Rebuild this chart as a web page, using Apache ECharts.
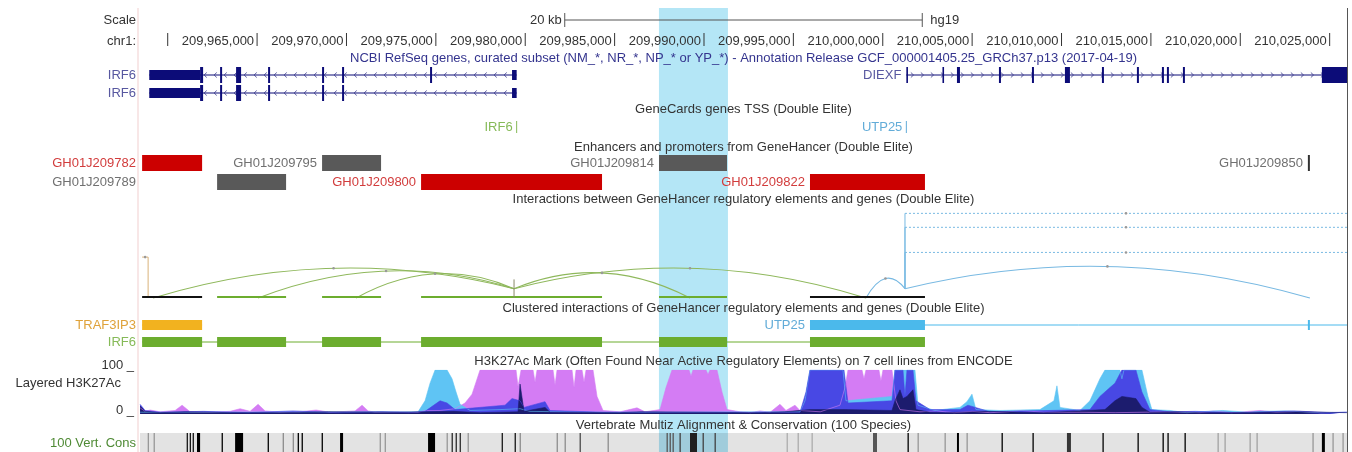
<!DOCTYPE html>
<html><head><meta charset="utf-8">
<script src="https://cdn.jsdelivr.net/npm/echarts@6/dist/echarts.min.js"></script>
<style>html,body{margin:0;padding:0;background:#fff}#c{width:1352px;height:452px}</style>
</head><body><div id="c"></div><script>
// ---------------- data (hg19, chr1) ----------------
const XMIN = 209958450, XMAX = 210025970;
const RULER_TICKS = [209960000,209965000,209970000,209975000,209980000,209985000,209990000,209995000,210000000,210005000,210010000,210015000,210020000,210025000];
const RULER_LABELS = ['','209,965,000','209,970,000','209,975,000','209,980,000','209,985,000','209,990,000','209,995,000','210,000,000','210,005,000','210,010,000','210,015,000','210,020,000','210,025,000'];
const SCALE_BAR_BP = 20000;
const HIGHLIGHT = [209987480, 209991340];

const IRF6_A_EXONS = [[209958968,209961812,'utr'],[209961812,209961980,'cds'],[209962931,209963043,'cds'],[209963825,209964105,'cds'],[209965615,209965727,'cds'],[209968635,209968747,'cds'],[209969754,209969866,'cds'],[209974676,209974788,'cds'],[209979262,209979520,'utr']];
const IRF6_B_EXONS = [[209958968,209961812,'utr'],[209961812,209961980,'cds'],[209962931,209963043,'cds'],[209963825,209964105,'cds'],[209965615,209965727,'cds'],[209968635,209968747,'cds'],[209969754,209969866,'cds'],[209979262,209979520,'utr']];
const DIEXF_EXONS = [[210001320,210001410,'cds'],[210003340,210003400,'cds'],[210004151,210004319,'cds'],[210006500,210006612,'cds'],[210008346,210008458,'cds'],[210010191,210010471,'cds'],[210012261,210012373,'cds'],[210014218,210014330,'cds'],[210015617,210015729,'cds'],[210015896,210016008,'cds'],[210016791,210016903,'cds'],[210024565,210030000,'cds']];
const GENE_NAMES = ['IRF6','IRF6','DIEXF'];
const GENE_STRAND = ['-','-','+'];
const GENE_SPAN = [[209958968,209979520],[209958968,209979520],[210001320,210030000]];

const TSS_NAMES = ['IRF6','UTP25'];
const TSS_POS = [209979520, 210001320];

const ENH_NAMES = ['GH01J209782','GH01J209795','GH01J209814','GH01J209850','GH01J209789','GH01J209800','GH01J209822'];
const ENH_START = [209958568,209968635,209987484,210023782,209962763,209974173,209995929];
const ENH_END   = [209961924,209971935,209991287,210023894,209966622,209984296,210002361];
const ENH_ROW   = [0,0,0,0,1,1,1];
const ENH_KIND  = ['p','e','e','x','e','p','p'];

// interactions: [one end, other end, arc height score, gene]
const INT_ARCS = [
  [209959183,209979374,32,'IRF6'],
  [209965056,209979374,29,'IRF6'],
  [209970537,209979374,26,'IRF6'],
  [209979374,209999061,32,'IRF6'],
  [209979374,209989218,27,'IRF6'],
  [209999061,210001243,21,'UTP25'],
  [210001243,210023894,34,'UTP25']
];
const INT_TSS = {IRF6:209979374, UTP25:210001243};
const INT_OFFSCREEN = [[209958904,'left',44,'TRAF3IP3'],[210001243,'right',91,'UTP25'],[210001243,'right',76,'UTP25'],[210001243,'right',49,'UTP25']];
const INT_FEET_ENH = [0,4,1,5,2,6];
const INT_FEET_MULTI = [true,false,false,false,false,true];

const CLU_GENES = ['TRAF3IP3','UTP25','IRF6'];
const CLU_ROW = [0,0,1];
const CLU_MEMBERS = [[0],[6,3],[0,4,1,5,2,6]];
const CLU_SPAN = [[209958568,209961924],[209995929,210030000],[209958568,210002361]];

// H3K27Ac layered signal, [position, value 0-100]
const H3_NHEK = [[209958456,14],[209958736,6],[209959015,9],[209959575,5],[209960414,8],[209960805,20],[209961253,5],[209962371,4],[209963490,6],[209964049,12],[209964608,6],[209965056,22],[209965447,7],[209966286,4],[209967405,5],[209968300,9],[209969083,4],[209970481,7],[209970873,20],[209971208,7],[209971600,4],[209972998,5],[209974005,4],[209974396,8],[209975235,8],[209976074,12],[209976633,25],[209977025,45],[209977472,100],[209979486,100],[209979598,62],[209979766,100],[209980437,100],[209980549,72],[209980660,100],[209981555,100],[209981667,66],[209981779,100],[209982618,100],[209982730,60],[209982842,100],[209983177,100],[209983289,72],[209983401,100],[209983792,100],[209984016,40],[209984352,8],[209985303,5],[209986253,14],[209986701,5],[209987540,10],[209987875,60],[209988211,100],[209989162,100],[209989274,86],[209989385,100],[209990113,100],[209990224,90],[209990336,100],[209990728,100],[209991007,50],[209991287,10],[209992014,5],[209992600,3],[209993133,7],[209993700,4],[209994251,22],[209994587,8],[209995090,20],[209995370,8],[209996500,5],[209997607,20],[209997887,60],[209998055,100],[209998838,100],[209998950,80],[209999061,100],[209999788,100],[209999900,75],[210000012,100],[210000516,100],[210000739,30],[210000963,10],[210002082,5],[210003000,7],[210004000,3],[210005000,6],[210005997,3],[210007000,5],[210007675,8],[210009000,4],[210011030,4],[210013000,3],[210016064,5],[210017742,3],[210018500,7],[210019500,3],[210021098,8],[210022000,4],[210023335,6],[210024500,3],[210025964,4]];
const H3_HUVEC = [[209958456,4],[209974005,5],[209974396,30],[209974676,70],[209974956,100],[209975627,100],[209975906,80],[209976130,50],[209976354,22],[209976913,8],[209978591,10],[209979710,12],[209980269,6],[209984352,4],[209995370,5],[209995650,30],[209995929,100],[209997775,100],[209997943,30],[210000516,40],[210000683,100],[210001802,100],[210001970,20],[210002921,8],[210004319,15],[210004710,28],[210004990,45],[210005214,10],[210006556,8],[210008793,10],[210009576,30],[210009744,64],[210009912,15],[210011030,8],[210011590,30],[210012149,80],[210012429,100],[210013268,100],[210013379,80],[210013491,100],[210014498,100],[210014834,40],[210015057,10],[210016064,8],[210017000,3],[210017742,5],[210019000,8],[210020500,4],[210021098,6],[210022500,7],[210024500,3],[210025964,4]];
const H3_K562 = [[209958456,22],[209958736,8],[209959575,4],[209962000,6],[209964500,3],[209967000,7],[209969500,3],[209972000,5],[209973500,3],[209974396,6],[209975235,30],[209975627,25],[209976074,10],[209978871,20],[209979262,35],[209979710,30],[209979933,15],[209981108,28],[209981387,8],[209984352,4],[209995370,4],[209995706,50],[209995929,100],[209997831,100],[209998055,25],[210000516,30],[210000683,100],[210001131,100],[210001243,40],[210001355,100],[210001690,100],[210001858,30],[210002641,10],[210004319,10],[210004766,20],[210005997,5],[210011590,10],[210012149,40],[210012708,60],[210012988,70],[210013379,100],[210014162,100],[210014498,50],[210014945,10],[210016064,5],[210017500,6],[210020000,3],[210023000,7],[210025000,3],[210025964,4]];
const H3_DARK = [[209958456,18],[209958736,6],[209959575,3],[209961000,5],[209963500,3],[209966286,3],[209969000,5],[209972998,4],[209976000,6],[209977500,3],[209979598,5],[209979710,68],[209979933,6],[209981108,15],[209981387,4],[209985303,3],[209986500,5],[209992500,3],[209993133,3],[209994500,5],[209995929,10],[209997831,10],[210000516,8],[210000683,30],[210000963,55],[210001131,35],[210001355,40],[210001690,55],[210001858,10],[210002641,4],[210003500,3],[210006000,6],[210007675,4],[210009000,3],[210012429,10],[210012988,30],[210013379,40],[210014162,35],[210014498,15],[210014945,4],[210016500,5],[210017742,3],[210019500,3],[210021098,4],[210023500,5],[210025964,3]];

// conservation elements [start, end, level 0-1]
const CONS = [[209958880,209958930,0.3],[209959210,209959260,0.3],[209961060,209961110,0.9],[209961230,209961280,0.9],[209961395,209961445,0.9],[209961640,209961812,1],[209963015,209963070,1],[209963770,209964217,1],[209965590,209965640,1],[209966430,209966480,0.35],[209966990,209967040,0.35],[209967270,209967320,1],[209967490,209967540,1],[209968610,209968660,1],[209969642,209969810,1],[209971855,209971905,0.3],[209972135,209972185,0.3],[209974564,209974956,1],[209975600,209975650,0.3],[209975880,209975930,0.8],[209976105,209976155,0.8],[209976330,209976380,0.8],[209976775,209976825,0.3],[209978680,209978730,0.9],[209979405,209979455,0.9],[209979685,209979735,0.35],[209981755,209981805,0.35],[209982200,209982250,0.35],[209983040,209983090,0.65],[209984605,209984655,0.35],[209987905,209987955,0.6],[209988075,209988125,0.6],[209988240,209988290,0.6],[209988630,209988680,0.7],[209989218,209989609,0.85],[209989920,209989970,0.7],[209990590,209990640,0.7],[209994620,209994670,0.2],[209995235,209995285,0.2],[209996015,209996065,0.2],[209999453,209999677,0.6],[210001385,210001435,1],[210001945,210001995,0.3],[210003455,210003505,0.3],[210004151,210004263,1],[210004685,210004735,0.3],[210006645,210006695,1],[210008375,210008425,1],[210010303,210010527,0.75],[210012290,210012340,1],[210014250,210014300,1],[210015650,210015700,1],[210015925,210015975,1],[210016880,210016930,1],[210018725,210018775,0.25],[210019115,210019165,0.25],[210020515,210020565,0.25],[210020905,210020955,0.25],[210024035,210024085,0.3],[210024565,210024733,1],[210025155,210025205,0.3],[210025715,210025765,0.3]];

// ---------------- layout & style ----------------
const L = {left:140, right:5, marginR:136,
  scaleY:20, rulerY:41, tickTop:33, tickBot:46,
  refTitle:58, geneRows:[75,93], utrH:10, cdsH:16, chevStep:10,
  tssTitle:109, tssY:127, tssH:12,
  enhTitle:147, enhRows:[163,182], enhH:16,
  intTitle:199, intTop:205, intBase:298, tssRaise:10,
  cluTitle:308, cluRows:[325,342], cluH:10,
  h3Title:361, h3Top:370, h3Base:414,
  consTitle:425, consTop:433, consBot:452, hlTop:8};
const FONT = '13px "Liberation Sans", Arial, sans-serif';
const NAVY = '#0c0c78';
const C = {title:'#333', refTitle:'#34348e', geneLabel:'#5858a0', chev:'#3a3a8c', red:'#cc0000', redLbl:'#d23c3c', gray:'#595959', grayLbl:'#707070',
  green:'#6cad2f', greenArc:'#8fb85c', greenLbl:'#86ba58', blue:'#4bb9eb', blueArc:'#78b9e2', blueLbl:'#62acd8',
  orange:'#f2b21f', orangeLbl:'#dfa23a', orangeArc:'#d9b27a',
  nhek:'#d47cf4', huvec:'#5fc4f4', k562:'#4848e4', dark:'#1c1c6e', hl:'#b4e6f6'};
const GENE_COLOR = {TRAF3IP3:C.orange, UTP25:C.blue, IRF6:C.green};
const ARC_COLOR = {TRAF3IP3:C.orangeArc, UTP25:C.blueArc, IRF6:C.greenArc};
const LBL_COLOR = {TRAF3IP3:C.orangeLbl, UTP25:C.blueLbl, IRF6:C.greenLbl};

const mctx = document.createElement('canvas').getContext('2d');
function textW(t){ mctx.font = FONT; return mctx.measureText(t).width; }
function labelX(startPx, t){ const x = startPx - 5; return (x - textW(t) < L.left) ? L.marginR : x; }
const clampX = v => Math.max(XMIN, Math.min(XMAX, v));
function txt(x, y, t, fill, align){ return {type:'text', x:x, y:y, style:{text:t, fill:fill, font:FONT, textAlign:align||'right', textVerticalAlign:'middle', align:align||'right', verticalAlign:'middle'}}; }
function rect(x, y, w, h, fill){ return {type:'rect', shape:{x:x, y:y, width:w, height:h}, style:{fill:fill}}; }
function line(x1,y1,x2,y2,stroke,w,dash){ return {type:'line', shape:{x1:x1,y1:y1,x2:x2,y2:y2}, style:{stroke:stroke, lineWidth:w||1, lineDash:dash||null}}; }

const chart = echarts.init(document.getElementById('c'));
const axX = i => ({type:'value', gridIndex:i, min:XMIN, max:XMAX, show:false});
const base = {type:'custom', silent:true, xAxisIndex:0, yAxisIndex:0, z:3};

const series = [];
// highlight band
series.push(Object.assign({}, base, {z:0, data:[[HIGHLIGHT[0], HIGHLIGHT[1]]], renderItem:(p, api)=>{
  const a = api.coord([api.value(0), L.hlTop]), b = api.coord([api.value(1), L.consBot]);
  return rect(a[0], a[1], b[0]-a[0], b[1]-a[1], C.hl);
}}));
// ruler
series.push(Object.assign({}, base, {data:RULER_TICKS.map((t,i)=>[t,i]), renderItem:(p, api)=>{
  const x = api.coord([api.value(0), 0])[0], i = api.value(1);
  return {type:'group', children:[line(x, L.tickTop, x, L.tickBot, '#333', 1), txt(x-3, L.rulerY, RULER_LABELS[i], C.title)]};
}}));
// scale bar
const mid = (XMIN + XMAX) / 2;
series.push(Object.assign({}, base, {data:[[mid - SCALE_BAR_BP/2, mid + SCALE_BAR_BP/2]], renderItem:(p, api)=>{
  const a = api.coord([api.value(0), L.scaleY])[0], b = api.coord([api.value(1), L.scaleY])[0], y = L.scaleY;
  return {type:'group', children:[line(a,y,b,y,'#555',1), line(a,y-7,a,y+7,'#555',1), line(b,y-7,b,y+7,'#555',1),
    txt(a-3, y, (SCALE_BAR_BP/1000)+' kb', C.title), txt(b+8, y, 'hg19', C.title, 'left')]};
}}));
// genes
series.push(Object.assign({}, base, {data:GENE_NAMES.map((n,i)=>[GENE_SPAN[i][0], GENE_SPAN[i][1], i]), renderItem:(p, api)=>{
  const i = api.value(2), y = [L.geneRows[0], L.geneRows[1], L.geneRows[0]][i];
  const exons = [IRF6_A_EXONS, IRF6_B_EXONS, DIEXF_EXONS][i];
  const x0 = api.coord([clampX(GENE_SPAN[i][0]), y])[0], x1 = api.coord([clampX(GENE_SPAN[i][1]), y])[0];
  const ch = [line(x0, y, x1, y, NAVY, 1)];
  const d = GENE_STRAND[i] === '-' ? 1 : -1;
  for (let x = x0 + 6; x < x1 - 3; x += L.chevStep) {
    ch.push({type:'polyline', shape:{points:[[x+1.5*d, y-2.5],[x-1.2*d, y],[x+1.5*d, y+2.5]]}, style:{stroke:C.chev, lineWidth:0.8, fill:null}});
  }
  exons.forEach(e => {
    const a = api.coord([clampX(e[0]), y])[0], b = api.coord([clampX(e[1]), y])[0];
    const h = e[2] === 'cds' ? L.cdsH : L.utrH;
    ch.push(rect(a, y - h/2, Math.max(1.6, b - a), h, NAVY));
  });
  const lx = labelX(x0, GENE_NAMES[i]);
  ch.push(txt(lx, y, GENE_NAMES[i], C.geneLabel));
  return {type:'group', children:ch};
}}));
// GeneCards TSS
series.push(Object.assign({}, base, {data:TSS_POS.map((t,i)=>[t,i]), renderItem:(p, api)=>{
  const i = api.value(1), x = api.coord([api.value(0), L.tssY])[0];
  const col = LBL_COLOR[TSS_NAMES[i]];
  return {type:'group', children:[line(x, L.tssY - L.tssH/2, x, L.tssY + L.tssH/2, col, 1), txt(x-4, L.tssY, TSS_NAMES[i], col)]};
}}));
// GeneHancer elements
series.push(Object.assign({}, base, {data:ENH_NAMES.map((n,i)=>[ENH_START[i], ENH_END[i], i]), renderItem:(p, api)=>{
  const i = api.value(2), y = L.enhRows[ENH_ROW[i]];
  const a = api.coord([ENH_START[i], y])[0], b = api.coord([ENH_END[i], y])[0];
  const k = ENH_KIND[i];
  const fill = k === 'p' ? C.red : (k === 'x' ? '#333' : C.gray);
  const lc = k === 'p' ? C.redLbl : C.grayLbl;
  return {type:'group', children:[rect(a, y - L.enhH/2, Math.max(2, b - a), L.enhH, fill), txt(labelX(a, ENH_NAMES[i]), y, ENH_NAMES[i], lc)]};
}}));
// interactions (grid 1, heights in score units)
const ib = Object.assign({}, base, {xAxisIndex:1, yAxisIndex:1});
series.push(Object.assign({}, ib, {data:INT_ARCS.map((a,i)=>[a[0], a[1], i]), renderItem:(p, api)=>{
  const r = INT_ARCS[api.value(2)], tss = INT_TSS[r[3]];
  const v0 = r[0] === tss ? L.tssRaise : 0, v1 = r[1] === tss ? L.tssRaise : 0;
  const p0 = api.coord([r[0], v0]), p1 = api.coord([r[1], v1]);
  const pk = api.coord([(r[0]+r[1])/2, r[2]]);
  const cy = 2*pk[1] - (p0[1]+p1[1])/2;
  const col = ARC_COLOR[r[3]];
  return {type:'group', children:[
    {type:'bezierCurve', shape:{x1:p0[0], y1:p0[1], x2:p1[0], y2:p1[1], cpx1:pk[0], cpy1:cy}, style:{stroke:col, lineWidth:1.1, fill:null}},
    {type:'circle', shape:{cx:pk[0], cy:pk[1], r:1.3}, style:{fill:'#999'}}]};
}}));
series.push(Object.assign({}, ib, {data:INT_OFFSCREEN.map((a,i)=>[a[0], a[2], i]), renderItem:(p, api)=>{
  const r = INT_OFFSCREEN[api.value(2)];
  const raise = r[3] === 'UTP25' ? L.tssRaise : 0;
  const pa = api.coord([r[0], raise]), pt = api.coord([r[0], r[2]]);
  const edge = api.coord([r[1] === 'right' ? XMAX : XMIN, r[2]]);
  const col = ARC_COLOR[r[3]];
  const mx = (pt[0] + edge[0]) / 2;
  return {type:'group', children:[line(pa[0], pa[1], pt[0], pt[1], col, 1), line(pt[0], pt[1], edge[0], edge[1], col, 1, [2,2]),
    {type:'circle', shape:{cx:r[1]==='right'?mx:pt[0]-3, cy:pt[1], r:1.3}, style:{fill:'#999'}}]};
}}));
series.push(Object.assign({}, ib, {data:INT_FEET_ENH.map((e,i)=>[ENH_START[e], ENH_END[e], i]), renderItem:(p, api)=>{
  const i = api.value(2), e = INT_FEET_ENH[i];
  const a = api.coord([ENH_START[e], 0]), b = api.coord([ENH_END[e], 0]);
  return line(a[0], a[1]-1, b[0], b[1]-1, INT_FEET_MULTI[i] ? '#111' : C.green, 2);
}}));
series.push(Object.assign({}, ib, {data:[[INT_TSS.IRF6, 0]], renderItem:(p, api)=>{
  const a = api.coord([api.value(0), 0]), b = api.coord([api.value(0), L.tssRaise*2]);
  return line(a[0], a[1], b[0], b[1], '#8a8a6a', 1);
}}));
// clustered interactions
series.push(Object.assign({}, base, {data:CLU_GENES.map((g,i)=>[CLU_SPAN[i][0], CLU_SPAN[i][1], i]), renderItem:(p, api)=>{
  const i = api.value(2), g = CLU_GENES[i], y = L.cluRows[CLU_ROW[i]], col = GENE_COLOR[g];
  const a = api.coord([clampX(CLU_SPAN[i][0]), y])[0], b = api.coord([clampX(CLU_SPAN[i][1]), y])[0];
  const ch = [line(a, y, b, y, col, 1)];
  CLU_MEMBERS[i].forEach(e => {
    const s = api.coord([ENH_START[e], y])[0], t = api.coord([ENH_END[e], y])[0];
    ch.push(rect(s, y - L.cluH/2, Math.max(2, t - s), L.cluH, col));
  });
  ch.push(txt(labelX(a, g), y, g, LBL_COLOR[g]));
  return {type:'group', children:ch};
}}));
// conservation
series.push(Object.assign({}, base, {data:[[XMIN, XMAX]], renderItem:(p, api)=>{
  const a = api.coord([XMIN, L.consTop]), b = api.coord([XMAX, L.consBot]);
  return rect(a[0], a[1], b[0]-a[0], b[1]-a[1], 'rgba(0,0,0,0.11)');
}}));
series.push(Object.assign({}, base, {z:4, data:CONS.map((c,i)=>[c[0], c[1], c[2]]), renderItem:(p, api)=>{
  const a = api.coord([api.value(0), L.consTop]), b = api.coord([api.value(1), L.consBot]);
  const v = Math.round(215 - api.value(2) * 215);
  return rect(a[0], a[1], Math.max(1.3, b[0]-a[0]), b[1]-a[1], 'rgb('+v+','+v+','+v+')');
}}));
// H3K27Ac layered signal
[[H3_NHEK, C.nhek], [H3_HUVEC, C.huvec], [H3_K562, C.k562], [H3_DARK, C.dark]].forEach(s => {
  series.push({type:'line', xAxisIndex:2, yAxisIndex:2, data:s[0], symbol:'none', showSymbol:false, silent:true, clip:true, z:3,
    lineStyle:{color:s[1], width:0.6}, areaStyle:{color:s[1], opacity:1}});
});

const gtext = (x, y, t, fill, align) => ({type:'text', x:x, y:y, z:10, silent:true,
  style:{text:t, fill:fill, font:FONT, textAlign:align||'right', textVerticalAlign:'middle'}});
const CX = (L.left + 1347) / 2;
const graphic = [
  {type:'line', shape:{x1:138, y1:L.hlTop, x2:138, y2:452}, style:{stroke:'#f1cfcf', lineWidth:1}, z:5},
  {type:'line', shape:{x1:1347.5, y1:L.hlTop, x2:1347.5, y2:452}, style:{stroke:'#555', lineWidth:1}, z:5},
  gtext(L.marginR, L.scaleY, 'Scale', C.title),
  gtext(L.marginR, L.rulerY, 'chr1:', C.title),
  gtext(CX, L.refTitle, 'NCBI RefSeq genes, curated subset (NM_*, NR_*, NP_* or YP_*) - Annotation Release GCF_000001405.25_GRCh37.p13 (2017-04-19)', C.refTitle, 'center'),
  gtext(CX, L.tssTitle, 'GeneCards genes TSS (Double Elite)', C.title, 'center'),
  gtext(CX, L.enhTitle, 'Enhancers and promoters from GeneHancer (Double Elite)', C.title, 'center'),
  gtext(CX, L.intTitle, 'Interactions between GeneHancer regulatory elements and genes (Double Elite)', C.title, 'center'),
  gtext(CX, L.cluTitle, 'Clustered interactions of GeneHancer regulatory elements and genes (Double Elite)', C.title, 'center'),
  gtext(CX, L.h3Title, 'H3K27Ac Mark (Often Found Near Active Regulatory Elements) on 7 cell lines from ENCODE', C.title, 'center'),
  gtext(CX, L.consTitle, 'Vertebrate Multiz Alignment & Conservation (100 Species)', C.title, 'center'),
  gtext(134, 365, '100 _', C.title),
  gtext(121, 383, 'Layered H3K27Ac', C.title),
  gtext(134, 410, '0 _', C.title),
  gtext(L.marginR, 443, '100 Vert. Cons', '#4f8a35')
];

chart.setOption({
  animation:false,
  grid:[
    {left:L.left, right:L.right, top:0, height:452},
    {left:L.left, right:L.right, top:L.intTop, height:L.intBase - L.intTop},
    {left:L.left, right:L.right, top:L.h3Top, height:L.h3Base - L.h3Top}
  ],
  xAxis:[axX(0), axX(1), axX(2)],
  yAxis:[
    {type:'value', gridIndex:0, min:0, max:452, inverse:true, show:false},
    {type:'value', gridIndex:1, min:0, max:100, show:false},
    {type:'value', gridIndex:2, min:0, max:100, show:false}
  ],
  series:series,
  graphic:graphic
});
</script></body></html>
